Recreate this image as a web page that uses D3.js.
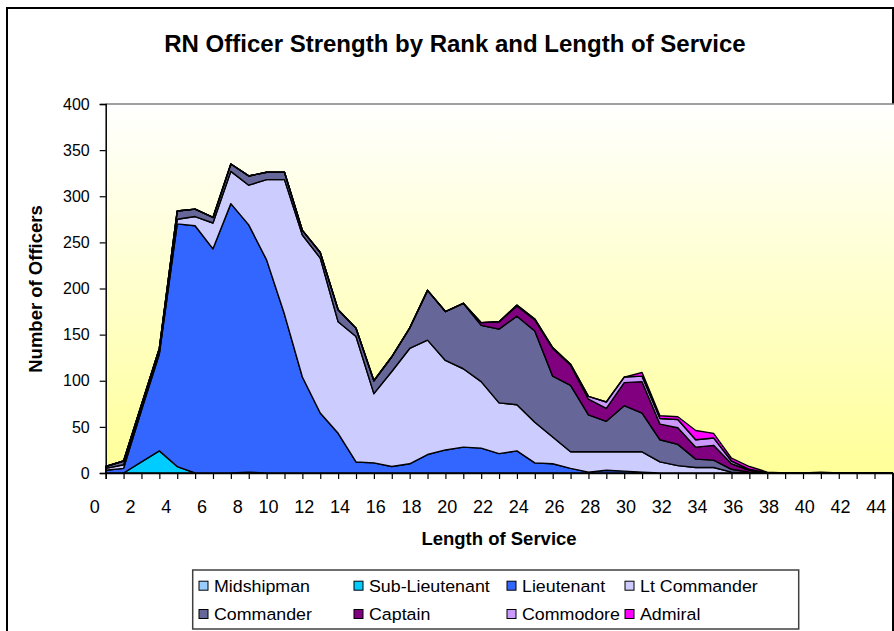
<!DOCTYPE html>
<html>
<head>
<meta charset="utf-8">
<script src="https://cdn.jsdelivr.net/npm/d3@7"></script>
<style>
  body { margin: 0; background: #fff; }
  text { font-family: "Liberation Sans", Arial, sans-serif; fill: #000; }
</style>
</head>
<body>
<div id="wrapper"></div>
<script>
// length of service (years)
var years = [0,1,2,3,4,5,6,7,8,9,10,11,12,13,14,15,16,17,18,19,20,21,22,23,24,25,26,27,28,29,30,31,32,33,34,35,36,37,38,39,40,41,42,43,44]

var ranks = ["Midshipman", "Sub-Lieutenant", "Lieutenant", "Lt Commander", "Commander", "Captain", "Commodore", "Admiral"]
var rankColors = ["#99CCFF", "#00CCFF", "#3366FF", "#CCCCFF", "#666699", "#800080", "#CC99FF", "#FF00FF"]

var midshipman    = [0,0,0,0,0,0,0,0,1,0,0,0,0,0,0,0,0,0,0,0,0,0,0,0,0,0,0,0,0,0,0,0,0,0,0,0,0,0,0,0,0,0,0,0,0]
var subLieutenant = [0,0,12,24,7,0,0,0,0,0,0,0,0,0,0,0,0,0,0,0,0,0,0,0,0,0,0,0,0,0,0,0,0,0,0,0,0,0,0,0,0,0,0,0,0]
var lieutenant    = [3,5,56,105,263,268,243,292,268,231,172,104,65,43,12,11,7,10,20,25,28,27,21,24,11,10,5,1,3,2,1,0,0,0,0,0,0,0,0,0,0,0,0,0,0]
var ltCommander   = [2,4,2,2,5,10,28,35,43,87,146,154,168,121,136,75,103,125,124,97,85,72,55,50,44,29,18,22,20,21,22,12,8,6,6,1,0,0,0,0,0,0,0,0,0]
var commander     = [2,4,4,4,9,8,6,8,10,8,8,5,6,13,9,14,16,22,54,53,71,61,80,96,99,66,72,40,33,50,42,24,23,9,8,3,1,0,0,0,0,0,0,0,0]
var captain       = [0,0,0,0,0,0,0,0,0,0,0,0,0,0,0,0,0,0,0,0,0,3,8,11,12,30,22,17,14,25,34,17,18,13,16,6,2,0,0,0,0,0,0,0,0]
var commodore     = [0,0,0,0,0,0,0,0,0,0,0,0,0,0,0,0,0,0,0,0,0,0,0,1,1,1,1,3,7,6,6,6,9,8,8,3,1,0,0,0,0,0,0,0,0]
var admiral       = [0,0,0,0,0,0,0,0,0,0,0,0,0,0,0,0,0,0,0,0,0,0,0,0,0,0,0,0,0,0,4,3,3,10,5,3,3,1,0,0,1,0,0,0,0]

var yTicks = [0,50,100,150,200,250,300,350,400]
var xLabels = [0,2,4,6,8,10,12,14,16,18,20,22,24,26,28,30,32,34,36,38,40,42,44]

var series = [midshipman, subLieutenant, lieutenant, ltCommander, commander, captain, commodore, admiral]

var table = years.map(function(yr, i) {
    var row = {year: yr}
    ranks.forEach(function(r, j) { row[r] = series[j][i] })
    return row
})

var width = 894, height = 631
var plot = {left: 105.7, right: 892.4, top: 104, bottom: 473}

var svg = d3.select("#wrapper")
    .append("svg")
    .attr("width", width)
    .attr("height", height)

var defs = svg.append("defs")
var grad = defs.append("linearGradient")
    .attr("id", "bg")
    .attr("x1", 0).attr("y1", 0).attr("x2", 0).attr("y2", 1)
grad.append("stop").attr("offset", "0%").attr("stop-color", "#FFFFFF")
grad.append("stop").attr("offset", "100%").attr("stop-color", "#FFFF99")

// outer chart frame
svg.append("rect")
    .attr("x", 7).attr("y", 8)
    .attr("width", 886).attr("height", 640)
    .style("fill", "#fff")
    .style("stroke", "#000")
    .style("stroke-width", 2)

var x = d3.scaleLinear().domain([0, 44]).range([plot.left, plot.right])
var y = d3.scaleLinear().domain([0, 400]).range([plot.bottom, plot.top])

// plot area
svg.append("rect")
    .attr("x", plot.left).attr("y", plot.top)
    .attr("width", 894 - plot.left).attr("height", plot.bottom - plot.top)
    .style("fill", "url(#bg)")
svg.append("line")
    .attr("x1", plot.left).attr("x2", 894)
    .attr("y1", plot.top).attr("y2", plot.top)
    .style("stroke", "#808080")
    .style("stroke-width", 1.5)

var stack = d3.stack().keys(ranks)
var layers = stack(table)

var area = d3.area()
    .x(d => x(d.data.year))
    .y0(d => y(d[0]))
    .y1(d => y(d[1]))

svg.append("g")
    .selectAll("path")
    .data(layers)
    .enter()
    .append("path")
    .attr("d", area)
    .style("fill", (d, i) => rankColors[i])
    .style("stroke", "#000")
    .style("stroke-width", 1.4)
    .style("stroke-linejoin", "round")

// y axis
var yAxis = svg.append("g")
    .attr("transform", `translate(${plot.left},0)`)
    .call(d3.axisLeft(y).tickValues(yTicks).tickSize(6).tickPadding(10))
yAxis.select(".domain").style("stroke", "#000").style("stroke-width", 1.5)
yAxis.selectAll(".tick line").style("stroke", "#000").style("stroke-width", 1.2)
yAxis.selectAll("text")
    .style("font-size", "16px")
    .style("font-family", '"Liberation Sans", Arial, sans-serif')

// x axis
var xAxis = svg.append("g")
    .attr("transform", `translate(0,${plot.bottom})`)
    .call(d3.axisBottom(x).tickValues(years).tickSize(6).tickFormat(""))
xAxis.select(".domain").style("stroke", "#000").style("stroke-width", 1.5)
xAxis.selectAll(".tick line").style("stroke", "#000").style("stroke-width", 1.2)

svg.append("g")
    .selectAll("text")
    .data(xLabels)
    .enter()
    .append("text")
    .attr("x", d => x(d) - 6)
    .attr("y", 513)
    .attr("text-anchor", "end")
    .style("font-size", "18px")
    .text(d => d)

// titles
svg.append("text")
    .attr("x", 455).attr("y", 52)
    .attr("text-anchor", "middle")
    .style("font-size", "24px")
    .style("font-weight", "bold")
    .text("RN Officer Strength by Rank and Length of Service")

svg.append("text")
    .attr("x", 499).attr("y", 545)
    .attr("text-anchor", "middle")
    .style("font-size", "18.5px")
    .style("font-weight", "bold")
    .text("Length of Service")

svg.append("text")
    .attr("transform", "translate(42,289) rotate(-90)")
    .attr("text-anchor", "middle")
    .style("font-size", "18.5px")
    .style("font-weight", "bold")
    .text("Number of Officers")

// legend
var legend = svg.append("g")
legend.append("rect")
    .attr("x", 192.7).attr("y", 570)
    .attr("width", 606).attr("height", 59)
    .style("fill", "#fff")
    .style("stroke", "#404040")
    .style("stroke-width", 1.5)

var colX = [199, 354, 507, 625]
var rowY = [585.7, 614]

var item = legend.selectAll("g.item")
    .data(ranks)
    .enter()
    .append("g")
    .attr("class", "item")
    .attr("transform", (d, i) => `translate(${colX[i % 4]},${rowY[Math.floor(i / 4)]})`)

item.append("rect")
    .attr("x", 0).attr("y", -4.5)
    .attr("width", 9).attr("height", 9)
    .style("fill", (d, i) => rankColors[i])
    .style("stroke", "#000")
    .style("stroke-width", 1)

item.append("text")
    .attr("transform", "translate(15,6) scale(1.08,1)")
    .style("font-size", "16.5px")
    .text(d => d)
</script>
</body>
</html>
